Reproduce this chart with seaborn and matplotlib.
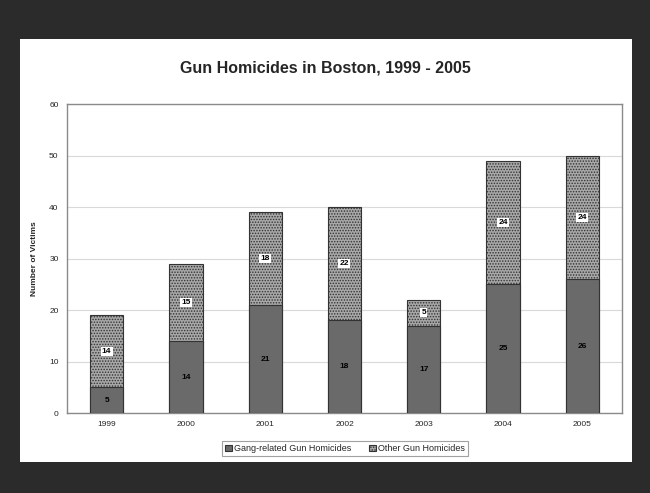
import matplotlib.pyplot as plt
import seaborn as sns
import pandas as pd

years = ["1999", "2000", "2001", "2002", "2003", "2004", "2005"]
gang_related = [5, 14, 21, 18, 17, 25, 26]
other = [14, 15, 18, 22, 5, 24, 24]

sns.set_theme(style="white")
plt.rcParams["font.family"] = ["Liberation Sans", "DejaVu Sans"]
plt.rcParams["hatch.linewidth"] = 0.7
plt.rcParams["hatch.color"] = "#5a5a5a"

df = pd.DataFrame({"Year": years, "Gang": gang_related, "Other": other})
df["Total"] = df["Gang"] + df["Other"]

fig = plt.figure(figsize=(6.5, 4.93), dpi=100, facecolor="#2b2b2b")
# white panel
fig.patches.append(plt.Rectangle((20 / 650, 31 / 493), 612 / 650, 423 / 493,
                                 transform=fig.transFigure, facecolor="white",
                                 edgecolor="none", zorder=-1))
ax = fig.add_axes([0.103, 0.162, 0.854, 0.627])
ax.set_zorder(1)
ax.set_facecolor("white")

# stacked: total (hatched) first, gang-related (solid) over it
sns.barplot(data=df, x="Year", y="Total", color="#a8a8a8", width=0.42,
            edgecolor="#333333", linewidth=0.8, hatch="......", saturation=1,
            ax=ax, label="Other Gun Homicides", zorder=2)
sns.barplot(data=df, x="Year", y="Gang", color="#6a6a6a", width=0.42,
            edgecolor="#333333", linewidth=0.8, saturation=1,
            ax=ax, label="Gang-related Gun Homicides", zorder=3)
if ax.get_legend() is not None:
    ax.get_legend().remove()

# value labels
for i, (g, o) in enumerate(zip(gang_related, other)):
    ax.text(i, g / 2, str(g), ha="center", va="center", fontsize=6,
            fontweight="bold", color="black", zorder=5)
    ax.text(i, g + o / 2, str(o), ha="center", va="center", fontsize=6,
            fontweight="bold", color="black", zorder=5,
            bbox=dict(boxstyle="square,pad=0.15", facecolor="white", edgecolor="none"))

ax.set_ylim(0, 60)
ax.set_yticks(range(0, 61, 10))
ax.set_xlim(-0.5, 6.5)
ax.yaxis.grid(True, color="#d9d9d9", linewidth=0.8, zorder=0)
ax.set_axisbelow(True)
for s in ax.spines.values():
    s.set_color("#8a8a8a")
    s.set_linewidth(1.0)
ax.tick_params(axis="y", length=3, color="#8a8a8a", labelsize=6, pad=3)
ax.tick_params(axis="x", length=0, labelsize=6, pad=6)
ax.set_xlabel("")
ax.set_ylabel("Number of Victims", fontsize=6, fontweight="bold", labelpad=8)

fig.text(0.5, 0.862, "Gun Homicides in Boston, 1999 - 2005", ha="center",
         va="center", fontsize=11.5, fontweight="bold")

handles, labels = ax.get_legend_handles_labels()
order = [labels.index("Gang-related Gun Homicides"), labels.index("Other Gun Homicides")]
leg = fig.legend([handles[k] for k in order], [labels[k] for k in order],
                 loc="center", bbox_to_anchor=(0.531, 0.090), ncol=2, fontsize=6.5,
                 frameon=True, fancybox=False, edgecolor="#8a8a8a",
                 handlelength=0.7, handleheight=0.7, handletextpad=0.25,
                 columnspacing=2.0, borderpad=0.35)
leg.get_frame().set_linewidth(0.8)

fig.savefig("out.png", dpi=100, facecolor=fig.get_facecolor())
